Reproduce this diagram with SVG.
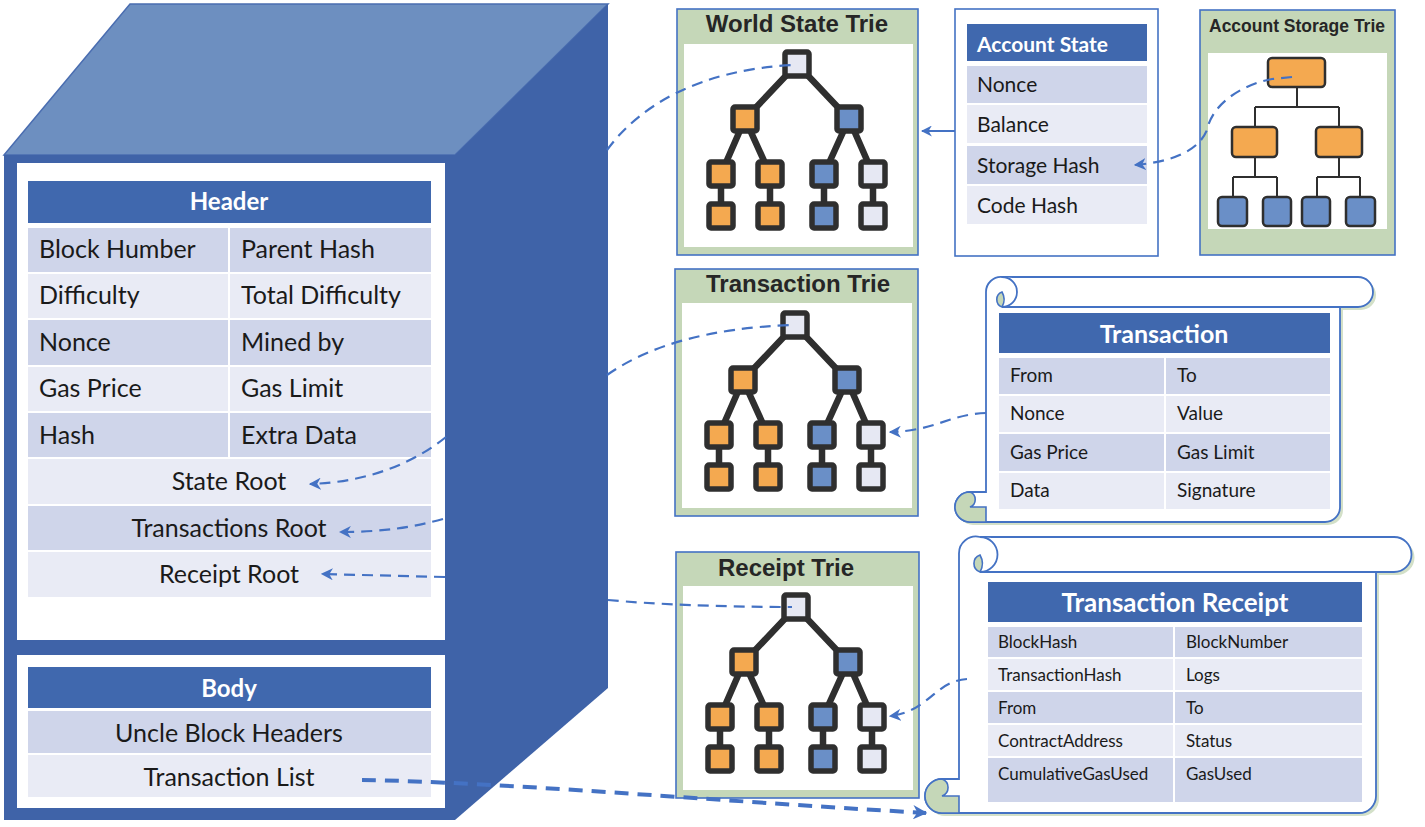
<svg xmlns="http://www.w3.org/2000/svg" width="1425" height="827" viewBox="0 0 1425 827">
<style>
.t{font-family:Lato,"Liberation Sans",sans-serif;fill:#1a1a1a}
.hb{font-family:Lato,"Liberation Sans",sans-serif;font-weight:bold;fill:#fff}
.tt{font-family:"Liberation Sans",Arial,sans-serif;font-weight:bold;fill:#262626}
.bar{fill:#4068AE}
.dk{fill:#CFD5EA}
.lt{fill:#E9EBF5}
.sep{stroke:#fff;stroke-width:2}
.trie{fill:#C5D7B8;stroke:#4472C4;stroke-width:1.6}
.inner{fill:#fff}
.tl{stroke:#2F2F2F;stroke-width:6.5;fill:none}
.nd{stroke:#2F2F2F;stroke-width:5.5}
.or{fill:#F4A950}
.bl{fill:#6A8FC7}
.li{fill:#E6E8F3}
.dash{fill:none;stroke:#4472C4;stroke-width:2.2;stroke-dasharray:11 7}
.thick{fill:none;stroke:#4472C4;stroke-width:4;stroke-dasharray:14 9}
.scroll{fill:#fff;stroke:#4472C4;stroke-width:1.8}
.curl{fill:#C5D7B8;stroke:#4472C4;stroke-width:1.6}
</style>
<defs>
<marker id="ah" viewBox="0 0 10 10" refX="9" refY="5" markerWidth="5.5" markerHeight="5.5" orient="auto" markerUnits="strokeWidth">
<path d="M0,0 L10,5 L0,10 L3,5 Z" fill="#4472C4"/>
</marker>
<marker id="ah2" viewBox="0 0 10 10" refX="9" refY="5" markerWidth="3.6" markerHeight="3.6" orient="auto" markerUnits="strokeWidth">
<path d="M0,0 L10,5 L0,10 L3,5 Z" fill="#4472C4"/>
</marker>
<g id="tree">
<path class="tl" d="M0,0 L-52,55 M0,0 L52,55 M-52,55 L-76,110 M-52,55 L-27,110 M52,55 L27,110 M52,55 L76,110 M-76,110 V152 M-27,110 V152 M27,110 V152 M76,110 V152"/>
<rect class="nd li" x="-12" y="-12" width="24" height="24" rx="2"/>
<rect class="nd or" x="-64" y="43" width="24" height="24" rx="2"/>
<rect class="nd bl" x="40" y="43" width="24" height="24" rx="2"/>
<rect class="nd or" x="-88" y="98" width="24" height="24" rx="2"/>
<rect class="nd or" x="-39" y="98" width="24" height="24" rx="2"/>
<rect class="nd bl" x="15" y="98" width="24" height="24" rx="2"/>
<rect class="nd li" x="64" y="98" width="24" height="24" rx="2"/>
<rect class="nd or" x="-88" y="140" width="24" height="24" rx="2"/>
<rect class="nd or" x="-39" y="140" width="24" height="24" rx="2"/>
<rect class="nd bl" x="15" y="140" width="24" height="24" rx="2"/>
<rect class="nd li" x="64" y="140" width="24" height="24" rx="2"/>
</g>
</defs>
<rect width="1425" height="827" fill="#fff"/>

<!-- Block cube -->
<g id="block">
<polygon points="4,155 130,4 608,4 455,155" fill="#6D8FC0" stroke="#4A6DB0" stroke-width="1.5"/>
<polygon points="455,155 608,4 608,688 455,820" fill="#3F63A8"/>
<rect x="4" y="155" width="451" height="665" fill="#3F63A8"/>
<rect x="17" y="163" width="428" height="477" fill="#fff"/>
<rect x="17" y="655" width="428" height="153" fill="#fff"/>
</g>

<g id="header">
<rect class="bar" x="28" y="181" width="403" height="42"/>
<text class="hb" x="229" y="210" font-size="24" text-anchor="middle">Header</text>
<rect class="dk" x="28" y="228" width="403" height="44"/>
<rect class="lt" x="28" y="274" width="403" height="44"/>
<rect class="dk" x="28" y="320" width="403" height="45"/>
<rect class="lt" x="28" y="367" width="403" height="44"/>
<rect class="dk" x="28" y="413" width="403" height="44"/>
<rect class="lt" x="28" y="459" width="403" height="45"/>
<rect class="dk" x="28" y="506" width="403" height="44"/>
<rect class="lt" x="28" y="552" width="403" height="45"/>
<line class="sep" x1="229" y1="228" x2="229" y2="458"/>
<g class="t" font-size="25">
<text x="39" y="258">Block Humber</text><text x="241" y="258">Parent Hash</text>
<text x="39" y="304">Difficulty</text><text x="241" y="304">Total Difficulty</text>
<text x="39" y="351">Nonce</text><text x="241" y="351">Mined by</text>
<text x="39" y="397">Gas Price</text><text x="241" y="397">Gas Limit</text>
<text x="39" y="444">Hash</text><text x="241" y="444">Extra Data</text>
<text x="229" y="490" text-anchor="middle">State Root</text>
<text x="229" y="537" text-anchor="middle">Transactions Root</text>
<text x="229" y="583" text-anchor="middle">Receipt Root</text>
</g>
</g>

<g id="body">
<rect class="bar" x="28" y="667" width="403" height="41"/>
<text class="hb" x="229" y="697" font-size="24" text-anchor="middle">Body</text>
<rect class="dk" x="28" y="711" width="403" height="42"/>
<rect class="lt" x="28" y="755" width="403" height="42"/>
<g class="t" font-size="25">
<text x="229" y="742" text-anchor="middle">Uncle Block Headers</text>
<text x="229" y="786" text-anchor="middle">Transaction List</text>
</g>
</g>

<g id="world-state-trie">
<rect class="trie" x="677" y="9" width="241" height="246"/>
<rect class="inner" x="684" y="44" width="229" height="203"/>
<text class="tt" x="797" y="32" font-size="24" text-anchor="middle">World State Trie</text>
<use href="#tree" transform="translate(797,64)"/>
</g>

<g id="transaction-trie">
<rect class="trie" x="675" y="269" width="243" height="247"/>
<rect class="inner" x="682" y="303" width="230" height="205"/>
<text class="tt" x="798" y="292" font-size="24" text-anchor="middle">Transaction Trie</text>
<use href="#tree" transform="translate(795,325)"/>
</g>

<g id="receipt-trie">
<rect class="trie" x="676" y="552" width="243" height="246"/>
<rect class="inner" x="683" y="586" width="230" height="204"/>
<text class="tt" x="786" y="576" font-size="24" text-anchor="middle">Receipt Trie</text>
<use href="#tree" transform="translate(796,607)"/>
</g>

<g id="account-state">
<rect x="955" y="9" width="203" height="247" fill="#fff" stroke="#4472C4" stroke-width="1.6"/>
<rect class="bar" x="967" y="24" width="180" height="37"/>
<text class="hb" x="977" y="52" font-size="21">Account State</text>
<rect class="dk" x="967" y="66" width="180" height="37"/>
<rect class="lt" x="967" y="105" width="180" height="38"/>
<rect class="dk" x="967" y="146" width="180" height="38"/>
<rect class="lt" x="967" y="186" width="180" height="38"/>
<g class="t" font-size="21">
<text x="977" y="92">Nonce</text>
<text x="977" y="132">Balance</text>
<text x="977" y="173">Storage Hash</text>
<text x="977" y="213">Code Hash</text>
</g>
</g>

<g id="account-storage-trie">
<rect class="trie" x="1200" y="10" width="195" height="245"/>
<text class="tt" x="1209" y="32" font-size="17.5">Account Storage Trie</text>
<rect class="inner" x="1208" y="53" width="179" height="176"/>
<path d="M1297,87 V107 M1255,107 H1339 M1255,107 V127 M1339,107 V127 M1255,157 V177 M1339,157 V177 M1233,177 H1277 M1317,177 H1360 M1233,177 V197 M1277,177 V197 M1317,177 V197 M1360,177 V197" stroke="#2F2F2F" stroke-width="2" fill="none"/>
<rect x="1268" y="58" width="57" height="29" rx="4" fill="#F4A950" stroke="#2F2F2F" stroke-width="2.5"/>
<rect x="1232" y="127" width="45" height="30" rx="4" fill="#F4A950" stroke="#2F2F2F" stroke-width="2.5"/>
<rect x="1316" y="127" width="46" height="30" rx="4" fill="#F4A950" stroke="#2F2F2F" stroke-width="2.5"/>
<rect x="1218" y="197" width="29" height="29" rx="4" fill="#6A8FC7" stroke="#2F2F2F" stroke-width="2.5"/>
<rect x="1263" y="197" width="28" height="29" rx="4" fill="#6A8FC7" stroke="#2F2F2F" stroke-width="2.5"/>
<rect x="1302" y="197" width="28" height="29" rx="4" fill="#6A8FC7" stroke="#2F2F2F" stroke-width="2.5"/>
<rect x="1346" y="197" width="29" height="29" rx="4" fill="#6A8FC7" stroke="#2F2F2F" stroke-width="2.5"/>
</g>

<g id="transaction-scroll">
<path d="M1005,280 H1361 A15,15 0 0 1 1361,310 H1343 V510 A15,15 0 0 1 1328,525 H973 A15,15 0 0 1 973,495 H989 V295 A15,15 0 0 1 1005,280 Z" fill="#D3E0C8"/>
<path class="scroll" d="M1002,277 H1358 A15,15 0 0 1 1358,307 H1340 V507 A15,15 0 0 1 1325,522 H970 A15,15 0 0 1 970,492 H986 V292 A15,15 0 0 1 1002,277 Z"/>
<path class="curl" d="M1002,307 A8,8 0 0 1 1002,292 A15,15 0 0 1 1002,307 Z"/>
<path class="scroll" d="M1002,277 A15,15 0 0 1 1002,307 H1340" fill="none"/>
<path class="curl" d="M970,522 A15,15 0 0 1 970,492 A8,8 0 0 1 970,507 H986 V522 Z"/>
<rect class="bar" x="999" y="313" width="331" height="40"/>
<text class="hb" x="1164" y="343" font-size="25" text-anchor="middle">Transaction</text>
<rect class="dk" x="999" y="358" width="331" height="36"/>
<rect class="lt" x="999" y="396" width="331" height="36"/>
<rect class="dk" x="999" y="434" width="331" height="37"/>
<rect class="lt" x="999" y="473" width="331" height="36"/>
<line class="sep" x1="1165" y1="358" x2="1165" y2="509"/>
<g class="t" font-size="19">
<text x="1010" y="382">From</text><text x="1177" y="382">To</text>
<text x="1010" y="420">Nonce</text><text x="1177" y="420">Value</text>
<text x="1010" y="459">Gas Price</text><text x="1177" y="459">Gas Limit</text>
<text x="1010" y="497">Data</text><text x="1177" y="497">Signature</text>
</g>
</g>

<g id="receipt-scroll">
<path d="M983,540 H1397 A17,17 0 0 1 1397,575 H1379 V799 A17,17 0 0 1 1362,816 H945 A17,17 0 0 1 945,782 H962 V557 A17,17 0 0 1 983,540 Z" fill="#D3E0C8"/>
<path class="scroll" d="M980,537 H1394 A17,17 0 0 1 1394,572 H1376 V796 A17,17 0 0 1 1359,813 H942 A17,17 0 0 1 942,779 H959 V554 A17,17 0 0 1 980,537 Z"/>
<path class="curl" d="M980,572 A9,9 0 0 1 980,555 A17,17 0 0 1 980,572 Z"/>
<path class="scroll" d="M980,537 A17,17 0 0 1 980,572 H1376" fill="none"/>
<path class="curl" d="M942,813 A17,17 0 0 1 942,779 A9,9 0 0 1 942,796 H959 V813 Z"/>
<rect class="bar" x="988" y="582" width="374" height="40"/>
<text class="hb" x="1175" y="612" font-size="26" text-anchor="middle">Transaction Receipt</text>
<rect class="dk" x="988" y="627" width="374" height="30"/>
<rect class="lt" x="988" y="659" width="374" height="31"/>
<rect class="dk" x="988" y="692" width="374" height="31"/>
<rect class="lt" x="988" y="725" width="374" height="31"/>
<rect class="dk" x="988" y="758" width="374" height="44"/>
<line class="sep" x1="1174" y1="627" x2="1174" y2="802"/>
<g class="t" font-size="17">
<text x="998" y="648">BlockHash</text><text x="1186" y="648">BlockNumber</text>
<text x="998" y="681">TransactionHash</text><text x="1186" y="681">Logs</text>
<text x="998" y="714">From</text><text x="1186" y="714">To</text>
<text x="998" y="747">ContractAddress</text><text x="1186" y="747">Status</text>
<text x="998" y="780">CumulativeGasUsed</text><text x="1186" y="780">GasUsed</text>
</g>
</g>

<g id="connectors">
<path class="dash" d="M607,150 C640,105 700,70 792,65"/>
<path class="dash" d="M446,437 C415,462 370,482 310,484" marker-end="url(#ah)"/>
<path class="dash" d="M443,519 C410,528 380,532 340,532" marker-end="url(#ah)"/>
<path class="dash" d="M445,577 L322,574" marker-end="url(#ah)"/>
<path class="dash" d="M607,375 C650,345 710,328 792,325"/>
<path class="dash" d="M608,600 C650,604 720,607 792,607"/>
<path class="thick" d="M362,780 C500,782 700,800 926,813" marker-end="url(#ah2)"/>
<path d="M955,131 L922,131" stroke="#4472C4" stroke-width="2" fill="none" marker-end="url(#ah)"/>
<path class="dash" d="M1292,77 L1272,79 C1240,85 1212,105 1207,130 C1198,152 1170,162 1135,165" marker-end="url(#ah)"/>
<path class="dash" d="M986,413 C950,414 935,431 890,432" marker-end="url(#ah)"/>
<path class="dash" d="M967,679 C935,681 928,712 890,716" marker-end="url(#ah)"/>
</g>
</svg>
